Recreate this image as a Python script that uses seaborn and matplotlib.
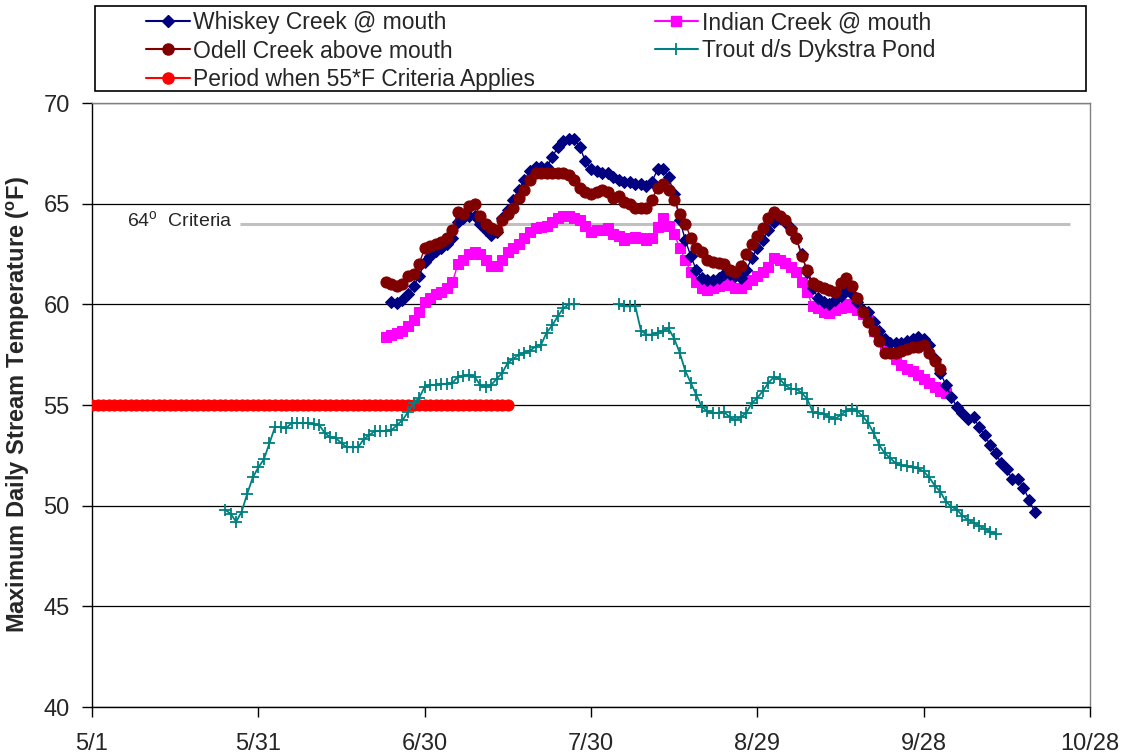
import numpy as np
import pandas as pd
import matplotlib
matplotlib.use("Agg")
import matplotlib.pyplot as plt
from matplotlib.lines import Line2D
from matplotlib.patches import Rectangle
import seaborn as sns

# days counted from 5/1
tick_days = [0, 30, 60, 90, 120, 150, 180]
tick_labels = ['5/1', '5/31', '6/30', '7/30', '8/29', '9/28', '10/28']

whiskey_start = 54
whiskey = [60.1, 60.05, 60.2, 60.5, 60.9, 61.4, 62.1, 62.4, 62.65, 62.8,
           63.0, 63.3, 64.1, 64.3, 64.4, 64.4, 64.0, 63.7, 63.45, 63.6,
           64.3, 64.7, 65.2, 65.7, 66.2, 66.6, 66.8, 66.8, 66.8, 67.3,
           67.8, 68.1, 68.2, 68.2, 67.8, 67.1, 66.7, 66.6, 66.5, 66.5,
           66.3, 66.2, 66.1, 66.1, 66.0, 66.0, 65.9, 66.1, 66.7, 66.7,
           66.3, 65.5, 64.2, 63.2, 62.4, 61.7, 61.3, 61.2, 61.2, 61.3,
           61.5, 61.5, 61.4, 61.3, 61.7, 62.3, 62.8, 63.2, 63.7, 64.1,
           64.3, 64.1, 63.8, 63.3, 62.5, 61.6, 60.8, 60.3, 60.1, 60.0,
           60.2, 60.4, 60.8, 60.5, 60.1, 59.7, 59.6, 59.1, 58.7, 58.3,
           58.1, 58.1, 58.1, 58.2, 58.3, 58.4, 58.3, 58.0, 57.3, 56.6,
           56.0, 55.4, 54.9, 54.6, 54.3, 54.4, 53.9, 53.5, 53.0, 52.6,
           52.1, 51.8, 51.3, 51.3, 50.9, 50.3, 49.7]

odell_start = 53
odell = [61.1, 61.0, 60.9, 61.0, 61.4, 61.5, 62.0, 62.8, 62.9, 63.0,
         63.1, 63.3, 63.7, 64.6, 64.5, 64.9, 65.0, 64.4, 64.0, 63.8,
         63.7, 64.2, 64.5, 64.8, 65.3, 65.7, 66.2, 66.5, 66.5, 66.5,
         66.5, 66.5, 66.5, 66.4, 66.2, 65.8, 65.6, 65.5, 65.6, 65.7,
         65.6, 65.3, 65.4, 65.1, 65.0, 64.8, 64.8, 64.8, 65.2, 65.8,
         66.0, 65.7, 65.2, 64.5, 64.0, 63.3, 62.8, 62.6, 62.2, 62.1,
         62.05, 62.0, 61.7, 61.6, 61.9, 62.5, 63.0, 63.4, 63.8, 64.3,
         64.6, 64.4, 64.2, 63.7, 63.3, 62.4, 61.7, 61.05, 60.9, 60.8,
         60.7, 60.6, 61.05, 61.3, 60.9, 60.3, 59.6, 59.1, 58.7, 58.2,
         57.6, 57.6, 57.6, 57.7, 57.8, 57.9, 57.9, 58.0, 57.6, 57.2,
         56.8]

indian_start = 53
indian = [58.4, 58.5, 58.6, 58.7, 58.9, 59.2, 59.6, 60.1, 60.3, 60.5,
          60.6, 60.8, 61.1, 62.0, 62.2, 62.5, 62.6, 62.5, 62.2, 61.9,
          61.9, 62.2, 62.6, 62.8, 63.0, 63.3, 63.6, 63.8, 63.85, 63.9,
          64.1, 64.3, 64.4, 64.4, 64.3, 64.2, 63.9, 63.6, 63.7, 63.7,
          63.8, 63.5, 63.4, 63.2, 63.3, 63.35, 63.3, 63.2, 63.3, 63.85,
          64.3, 63.9, 63.5, 62.8, 62.2, 61.6, 61.1, 60.8, 60.7, 60.8,
          60.9, 61.05, 60.95, 60.8, 60.8, 61.0, 61.2, 61.4, 61.6, 61.85,
          62.3, 62.2, 62.05, 61.85, 61.6, 61.1, 60.6, 59.9, 59.8, 59.6,
          59.55, 59.7, 59.8, 60.0, 59.85, 59.7, 59.5, 59.2, 58.7, 58.3,
          57.9, 57.6, 57.3, 57.0, 56.8, 56.7, 56.5, 56.3, 56.1, 55.9,
          55.7, 55.6]

trout_start = 24
trout = [49.8, 49.6, 49.2, 49.7, 50.6, 51.4, 51.9, 52.3, 53.1, 53.9,
         53.9, 53.85, 54.1, 54.1, 54.1, 54.1, 54.05, 54.0, 53.6, 53.4,
         53.35, 53.1, 52.9, 52.9, 52.9, 53.3, 53.5, 53.7, 53.7, 53.7,
         53.75, 54.0, 54.25, 54.65, 55.1, 55.35, 55.9, 56.0, 56.0, 56.05,
         56.05, 56.1, 56.4, 56.45, 56.5, 56.4, 56.0, 55.9, 56.0, 56.3,
         56.6, 57.1, 57.3, 57.5, 57.6, 57.7, 57.9, 58.0, 58.6, 58.95,
         59.4, 59.8, 60.0, 60.0, None, None, None, None, None, None,
         None, 60.0, 59.9, 59.9, 59.9, 58.7, 58.5, 58.5, 58.6, 58.7,
         58.8, 58.3, 57.6, 56.7, 56.1, 55.5, 54.9, 54.7, 54.6, 54.6,
         54.65, 54.4, 54.25, 54.4, 54.6, 55.1, 55.35, 55.7, 56.1, 56.4,
         56.3, 56.0, 55.8, 55.8, 55.6, 55.3, 54.65, 54.6, 54.55, 54.4,
         54.3, 54.5, 54.7, 54.8, 54.7, 54.45, 54.1, 53.6, 53.0, 52.6,
         52.35, 52.1, 52.0, 51.95, 51.9, 51.85, 51.7, 51.4, 51.0, 50.7,
         50.2, 49.95, 49.8, 49.5, 49.3, 49.15, 49.0, 48.85, 48.7, 48.6]

# 55F criteria period, 5/1 to 7/15
criteria55_start = 0
criteria55 = [55] * 76

crit64_value = 64
crit64_from = 26.7
crit64_to = 176.4


def series(start, vals):
    d = pd.DataFrame({'day': np.arange(start, start + len(vals)),
                      'temp': pd.to_numeric(pd.Series(vals), errors='coerce')})
    return d


sns.set_style('ticks')
plt.rcParams['font.family'] = ['Liberation Sans', 'DejaVu Sans']
plt.rcParams['mathtext.fontset'] = 'custom'
plt.rcParams['mathtext.rm'] = 'Liberation Sans'
plt.rcParams['mathtext.bf'] = 'Liberation Sans:bold'

fig = plt.figure(figsize=(11.24, 7.54), dpi=100)
ax = fig.add_axes([92 / 1124, 1 - 707 / 754, (1090 - 92) / 1124, (707 - 103) / 754])

ax.set_xlim(0, 180)
ax.set_ylim(40, 70)
ax.set_yticks(range(40, 71, 5))
ax.yaxis.grid(True, color='black', linewidth=0.9)
ax.set_axisbelow(True)

# 64 deg criteria
ax.hlines(crit64_value, crit64_from, crit64_to, color='#c0c0c0', linewidth=2.2, zorder=1)
ax.text(6.3, 64.15, r'64$^{\mathrm{o}}$  Criteria', fontsize=14, va='center', ha='left')

df_red = series(criteria55_start, criteria55)
sns.lineplot(data=df_red, x='day', y='temp', ax=ax, color='#ff0000', marker='o',
             markersize=8, markeredgecolor='#ff0000', linewidth=1, legend=False, zorder=3)

df_trout = series(trout_start, trout)
df_trout['seg'] = df_trout['temp'].isna().cumsum()
df_trout = df_trout.dropna()
sns.lineplot(data=df_trout, x='day', y='temp', units='seg', estimator=None, ax=ax,
             color='#008080', marker='+', markersize=9, markeredgecolor='#008080',
             markeredgewidth=1.3, linewidth=1.3, legend=False, zorder=4)

df_ind = series(indian_start, indian)
sns.lineplot(data=df_ind, x='day', y='temp', ax=ax, color='#ff00ff', marker='s',
             markersize=7, markeredgecolor='#ff00ff', linewidth=1, legend=False, zorder=5)

df_whi = series(whiskey_start, whiskey)
sns.lineplot(data=df_whi, x='day', y='temp', ax=ax, color='#000080', marker='D',
             markersize=6.3, markeredgecolor='#000080', linewidth=1, legend=False, zorder=6)

df_ode = series(odell_start, odell)
sns.lineplot(data=df_ode, x='day', y='temp', ax=ax, color='#800000', marker='o',
             markersize=8, markeredgecolor='#800000', linewidth=1, legend=False, zorder=7)

ax.set_xticks(tick_days)
ax.set_xticklabels(tick_labels)
ax.tick_params(axis='both', labelsize=17, length=7, width=1, color='black')
ax.tick_params(axis='x', pad=12)
ax.tick_params(axis='y', pad=9)
ax.set_xlabel('')
ax.set_ylabel(r'Maximum Daily Stream Temperature ($\mathbf{^{o}}$F)',
              fontsize=17, fontweight='bold', labelpad=8)

for s in ['left', 'bottom']:
    ax.spines[s].set_color('black')
    ax.spines[s].set_linewidth(1)
for s in ['top', 'right']:
    ax.spines[s].set_color('#808080')
    ax.spines[s].set_linewidth(1)

handles = [
    Line2D([], [], color='#000080', marker='D', markersize=6.3, markeredgecolor='#000080'),
    Line2D([], [], color='#800000', marker='o', markersize=8, markeredgecolor='#800000'),
    Line2D([], [], color='#ff0000', marker='o', markersize=8, markeredgecolor='#ff0000'),
    Line2D([], [], color='#ff00ff', marker='s', markersize=7, markeredgecolor='#ff00ff'),
    Line2D([], [], color='#008080', marker='+', markersize=9, markeredgewidth=1.3),
]
labels = ['Whiskey Creek @ mouth', 'Odell Creek above mouth',
          'Period when 55*F Criteria Applies', 'Indian Creek @ mouth',
          'Trout d/s Dykstra Pond']
fig.legend(handles, labels, loc='upper left', bbox_to_anchor=(135 / 1124, 1.0),
           ncol=2, frameon=False, fontsize=16.5, handlelength=1.9, handletextpad=0.15,
           columnspacing=5.2, labelspacing=0.22, borderpad=0)

fig.patches.append(Rectangle((95 / 1124, 1 - 91 / 754), (1086 - 95) / 1124, 85 / 754,
                             transform=fig.transFigure, fill=False, edgecolor='black',
                             linewidth=1.2))

fig.savefig('out.png', dpi=100)
